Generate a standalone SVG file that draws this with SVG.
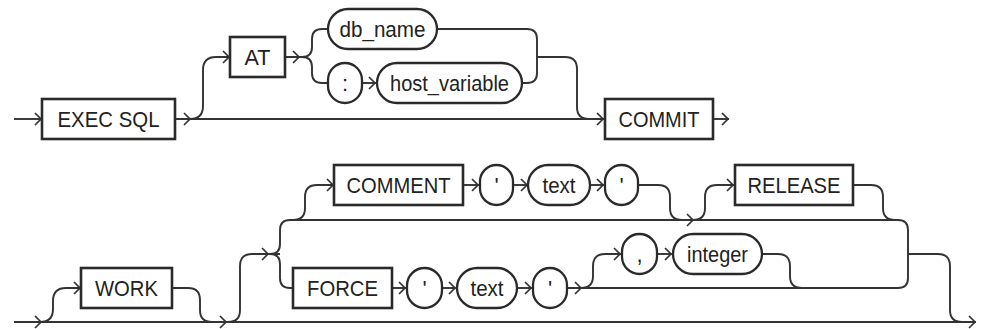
<svg xmlns="http://www.w3.org/2000/svg" width="981" height="329" viewBox="0 0 981 329">
<style>
.box{fill:#fff;stroke:#2a2a2a;stroke-width:2.6}
.pill{fill:#fff;stroke:#2a2a2a;stroke-width:2.3}
.t{font-family:"Liberation Sans",Arial,sans-serif;font-size:22px;fill:#222;text-anchor:middle}
.ln{fill:none;stroke:#333;stroke-width:1.9}
.ar{fill:none;stroke:#333;stroke-width:1.7}
</style>
<rect width="981" height="329" fill="#fff"/>
<g id="connectors">
<path class="ln" d="M14 119H42"/>
<path class="ln" d="M175 119H605"/>
<path class="ln" d="M190 119Q203 119 203 106V70Q203 57 216 57H230"/>
<path class="ln" d="M285 57H302Q312 57 312 47V39Q312 29 322 29H328"/>
<path class="ln" d="M302 57Q312 57 312 67V73Q312 83 322 83H328"/>
<path class="ln" d="M362 83H377"/>
<path class="ln" d="M437 29H527Q537 29 537 39V73Q537 83 527 83H522"/>
<path class="ln" d="M537 57H565Q577 57 577 69V107Q577 119 589 119"/>
<path class="ln" d="M713 119H729"/>
<path class="ln" d="M14 322H976"/>
<path class="ln" d="M40 322Q53 322 53 309V301Q53 288 66 288H81"/>
<path class="ln" d="M172 288H188Q200 288 200 300V310Q200 322 212 322"/>
<path class="ln" d="M228 322Q240 322 240 310V266Q240 254 252 254H280"/>
<path class="ln" d="M270 254Q280 254 280 244V230Q280 220 290 220H898Q908 220 908 230V278Q908 288 898 288H567"/>
<path class="ln" d="M270 254Q280 254 280 264V278Q280 288 290 288H293"/>
<path class="ln" d="M293 220Q305 220 305 208V197Q305 185 317 185H334"/>
<path class="ln" d="M463 185H480"/>
<path class="ln" d="M513 185H528"/>
<path class="ln" d="M590 185H605"/>
<path class="ln" d="M638 185H658Q670 185 670 197V208Q670 220 682 220"/>
<path class="ln" d="M693 220Q705 220 705 208V197Q705 185 717 185H735"/>
<path class="ln" d="M853 185H871Q883 185 883 197V208Q883 220 895 220"/>
<path class="ln" d="M392 288H407"/>
<path class="ln" d="M442 288H457"/>
<path class="ln" d="M517 288H533"/>
<path class="ln" d="M581 288Q593 288 593 276V266Q593 254 605 254H622"/>
<path class="ln" d="M657 254H673"/>
<path class="ln" d="M762 254H778Q790 254 790 266V276Q790 288 802 288"/>
<path class="ln" d="M908 254H938Q950 254 950 266V310Q950 322 962 322"/>
<g class="ar">
<path d="M35 113L41 119L35 125"/>
<path d="M184 113L190 119L184 125"/>
<path d="M223 51L229 57L223 63"/>
<path d="M293 51L299 57L293 63"/>
<path d="M369 77L375 83L369 89"/>
<path d="M597 113L603 119L597 125"/>
<path d="M722 113L728 119L722 125"/>
<path d="M35 316L41 322L35 328"/>
<path d="M74 282L80 288L74 294"/>
<path d="M220 316L226 322L220 328"/>
<path d="M262 248L268 254L262 260"/>
<path d="M327 179L333 185L327 191"/>
<path d="M472 179L478 185L472 191"/>
<path d="M521 179L527 185L521 191"/>
<path d="M597 179L603 185L597 191"/>
<path d="M687 214L693 220L687 226"/>
<path d="M727 179L733 185L727 191"/>
<path d="M399 282L405 288L399 294"/>
<path d="M449 282L455 288L449 294"/>
<path d="M525 282L531 288L525 294"/>
<path d="M575 282L581 288L575 294"/>
<path d="M614 248L620 254L614 260"/>
<path d="M665 248L671 254L665 260"/>
<path d="M969 316L975 322L969 328"/>
</g>
</g>
<g id="exec_sql"><rect class="box" x="42" y="99" width="133" height="40"/><text class="t" x="108.5" y="127" textLength="102" lengthAdjust="spacingAndGlyphs">EXEC SQL</text></g>
<g id="at"><rect class="box" x="230" y="37" width="55" height="40"/><text class="t" x="257.5" y="65" textLength="26" lengthAdjust="spacingAndGlyphs">AT</text></g>
<g id="db_name"><rect class="pill" x="328" y="9" width="109" height="40" rx="20"/><text class="t" x="382.5" y="37" textLength="86" lengthAdjust="spacingAndGlyphs">db_name</text></g>
<g id="colon"><rect class="pill" x="328" y="63" width="34" height="40" rx="17"/><text class="t" x="345" y="91">:</text></g>
<g id="host_variable"><rect class="pill" x="377" y="63" width="145" height="40" rx="20"/><text class="t" x="449.5" y="91" textLength="119" lengthAdjust="spacingAndGlyphs">host_variable</text></g>
<g id="commit"><rect class="box" x="605" y="99" width="108" height="40"/><text class="t" x="659" y="127" textLength="81" lengthAdjust="spacingAndGlyphs">COMMIT</text></g>
<g id="work"><rect class="box" x="81" y="268" width="91" height="40"/><text class="t" x="126.5" y="296" textLength="63" lengthAdjust="spacingAndGlyphs">WORK</text></g>
<g id="comment"><rect class="box" x="334" y="165" width="129" height="40"/><text class="t" x="398.5" y="193" textLength="104" lengthAdjust="spacingAndGlyphs">COMMENT</text></g>
<g id="quote1"><rect class="pill" x="480" y="165" width="33" height="40" rx="16.5"/><text class="t" x="496.5" y="193">'</text></g>
<g id="text1"><rect class="pill" x="528" y="165" width="62" height="40" rx="20"/><text class="t" x="559" y="193" textLength="33" lengthAdjust="spacingAndGlyphs">text</text></g>
<g id="quote2"><rect class="pill" x="605" y="165" width="33" height="40" rx="16.5"/><text class="t" x="621.5" y="193">'</text></g>
<g id="release"><rect class="box" x="735" y="165" width="118" height="40"/><text class="t" x="794" y="193" textLength="93" lengthAdjust="spacingAndGlyphs">RELEASE</text></g>
<g id="force"><rect class="box" x="293" y="268" width="99" height="40"/><text class="t" x="342.5" y="296" textLength="71" lengthAdjust="spacingAndGlyphs">FORCE</text></g>
<g id="quote3"><rect class="pill" x="407" y="268" width="35" height="40" rx="17.5"/><text class="t" x="424.5" y="296">'</text></g>
<g id="text2"><rect class="pill" x="457" y="268" width="60" height="40" rx="20"/><text class="t" x="487" y="296" textLength="33" lengthAdjust="spacingAndGlyphs">text</text></g>
<g id="quote4"><rect class="pill" x="533" y="268" width="34" height="40" rx="17"/><text class="t" x="550" y="296">'</text></g>
<g id="comma"><rect class="pill" x="622" y="234" width="35" height="40" rx="17.5"/><text class="t" x="639.5" y="262">,</text></g>
<g id="integer"><rect class="pill" x="673" y="234" width="89" height="40" rx="20"/><text class="t" x="717.5" y="262" textLength="61" lengthAdjust="spacingAndGlyphs">integer</text></g>
</svg>
